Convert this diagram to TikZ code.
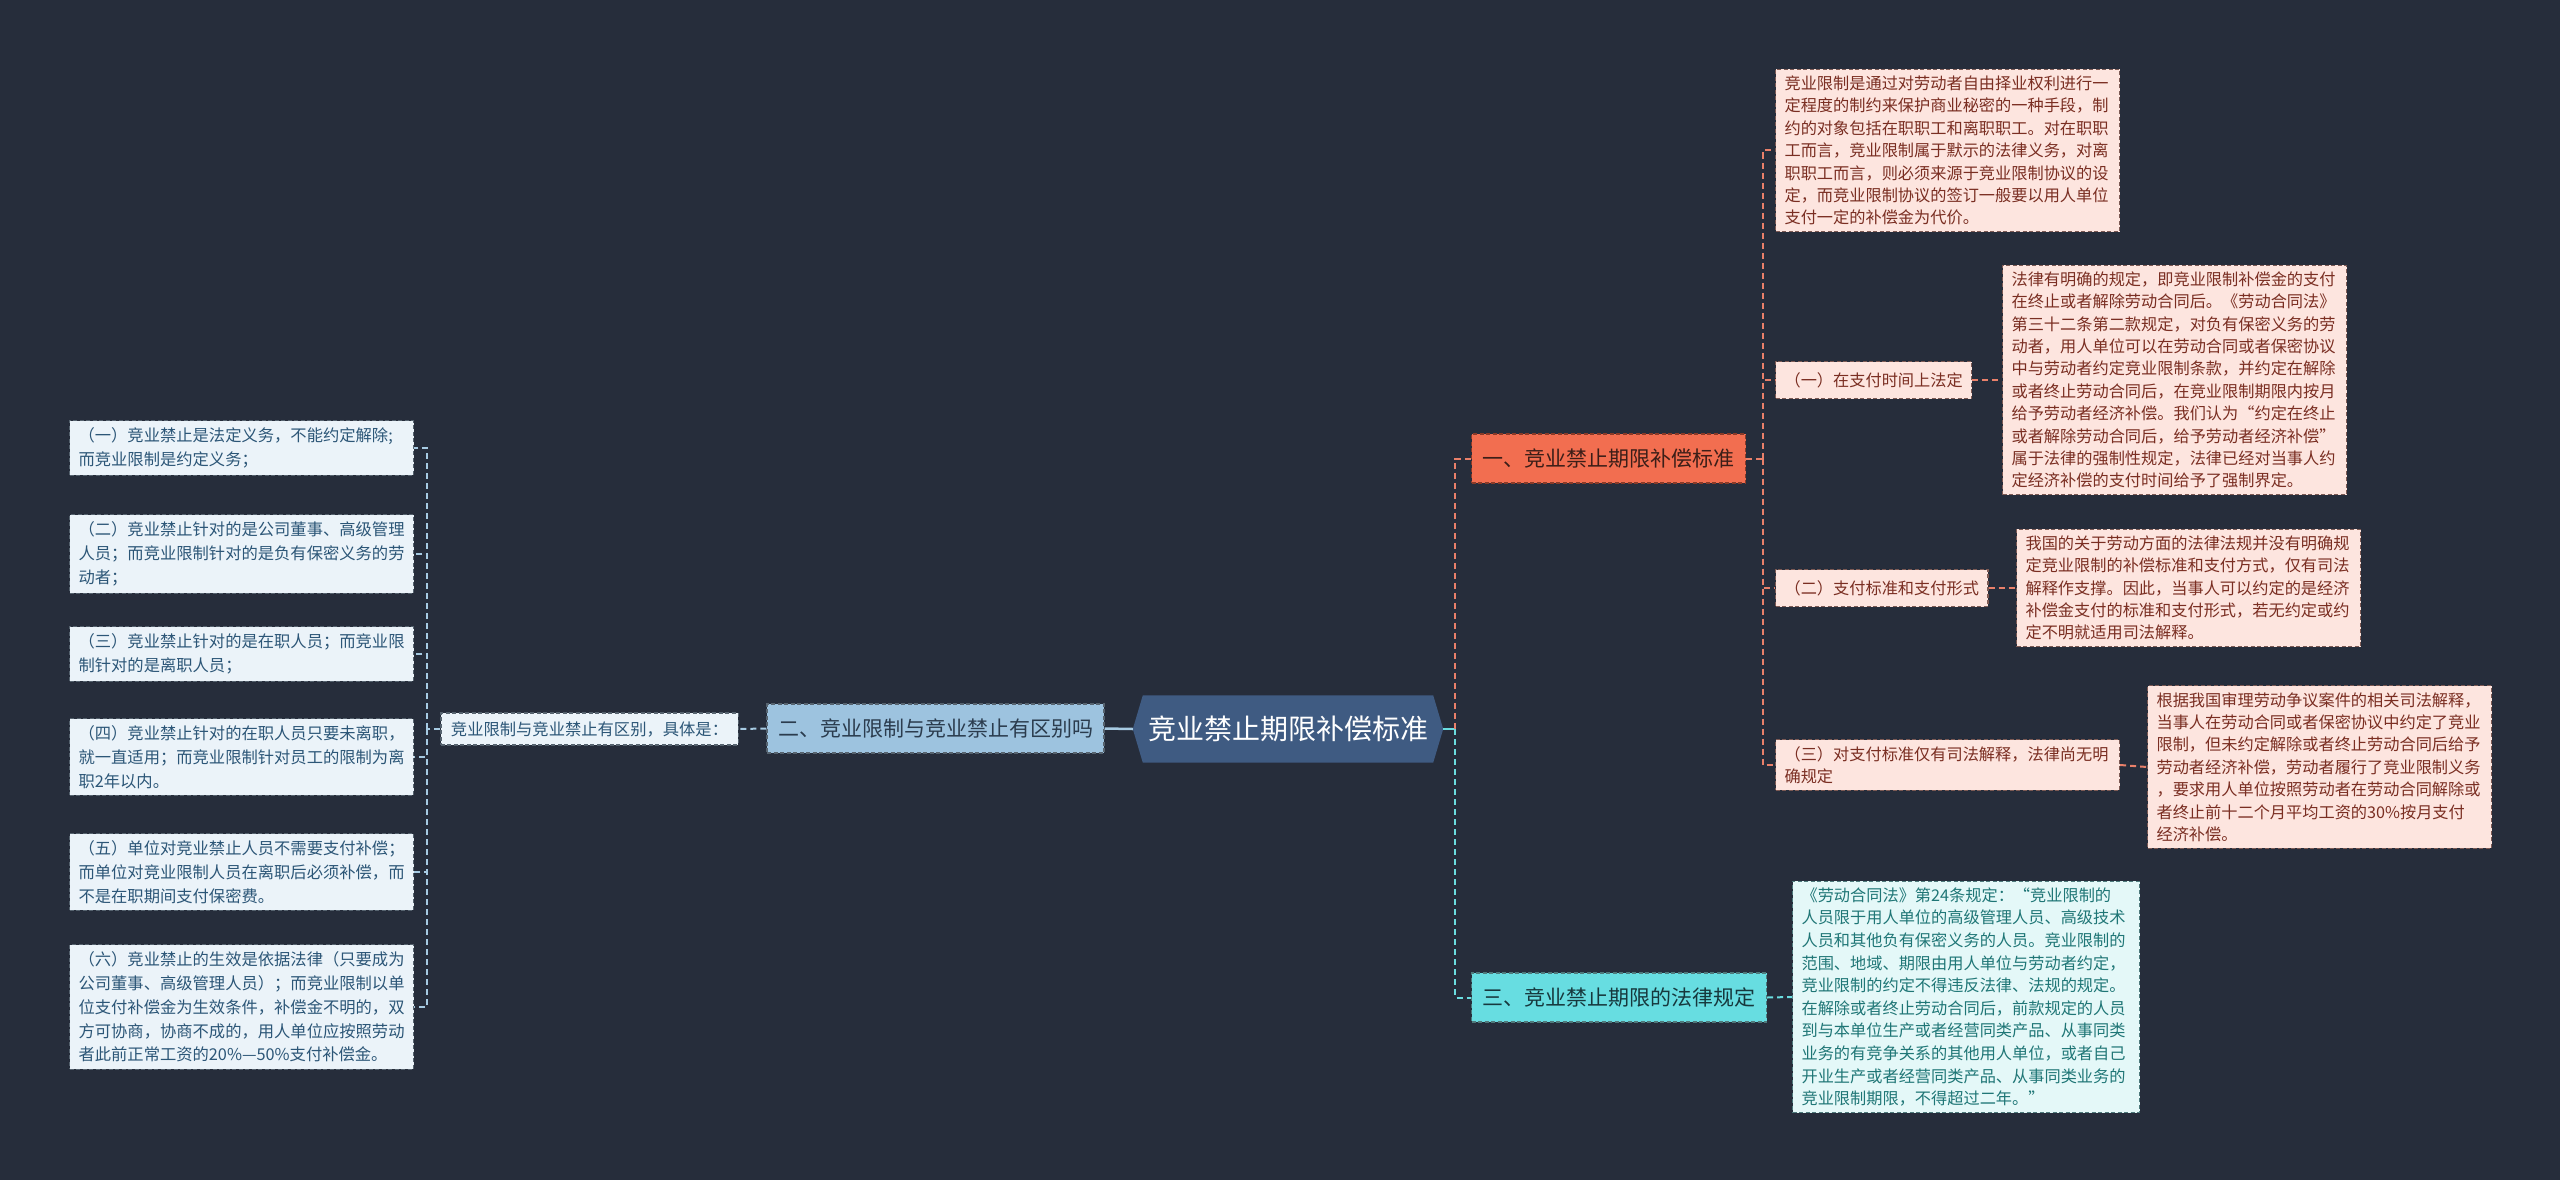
\documentclass[tikz,border=0pt]{standalone}
\usepackage{fontspec}
\setmainfont{Noto Sans CJK SC}
\usetikzlibrary{calc,backgrounds}
\definecolor{bgc}{HTML}{262D3B}
\definecolor{centerfill}{HTML}{3F5B82}
\definecolor{bluefill}{HTML}{9DC3DF}
\definecolor{bluetext}{HTML}{2B3C4E}
\definecolor{lightfill}{HTML}{EBF3F9}
\definecolor{lighttext}{HTML}{2C5677}
\definecolor{lightborder}{HTML}{56636F}
\definecolor{blueline}{HTML}{A7CBE3}
\definecolor{orangefill}{HTML}{F26E50}
\definecolor{orangetext}{HTML}{3C1E18}
\definecolor{orangeborder}{HTML}{8A3A28}
\definecolor{orangeline}{HTML}{E9806A}
\definecolor{pinkfill}{HTML}{FDE5DF}
\definecolor{pinktext}{HTML}{7A2E22}
\definecolor{pinkborder}{HTML}{7D5A54}
\definecolor{cyanfill}{HTML}{67DDE1}
\definecolor{cyantext}{HTML}{17383D}
\definecolor{cyanline}{HTML}{6ADDE0}
\definecolor{cyanlight}{HTML}{E4F8F8}
\definecolor{cyanbtext}{HTML}{1F7676}
\definecolor{cyanborder}{HTML}{4E7A7C}
\tikzset{
  dsh/.style={dash pattern=on 4pt off 2.5pt},
  basebox/.style={draw, dsh, line width=1.1pt, inner xsep=9pt, inner ysep=6.5pt, align=left, anchor=west},
  pinkbox/.style={basebox, fill=pinkfill, draw=pinkborder, text=pinktext, text width=326pt, font=\fontsize{16.2}{22.4}\selectfont},
  pinklabel/.style={basebox, fill=pinkfill, draw=pinkborder, text=pinktext, minimum height=37pt, font=\fontsize{16.2}{22.4}\selectfont},
  leftbox/.style={basebox, fill=lightfill, draw=lightborder, text=lighttext, text width=326pt, inner ysep=7pt, font=\fontsize{16.3}{23.8}\selectfont},
  cyanbox/.style={basebox, fill=cyanlight, draw=cyanborder, text=cyanbtext, text width=329pt, font=\fontsize{16.2}{22.6}\selectfont},
  mainnode/.style={basebox, align=center, minimum height=49pt, inner xsep=11pt, font=\fontsize{21}{25}\selectfont},
  conn/.style={line width=2pt, dash pattern=on 6pt off 4pt},
}
\begin{document}
\begin{tikzpicture}[x=1pt,y=-1pt]
\useasboundingbox (0,0) rectangle (2560,1180);

% center
\node[text=white, minimum width=310pt, minimum height=67pt, inner sep=0pt, font=\fontsize{28}{32}\selectfont] (c) at (1288,729) {竞业禁止期限补偿标准};

% level 1
\node[mainnode, anchor=center, fill=bluefill, draw=lightborder, text=bluetext, minimum width=337pt] (n2) at (935.5,728.5) {二、竞业限制与竞业禁止有区别吗};
\node[basebox, anchor=center, fill=lightfill, draw=lightborder, text=lighttext, minimum width=297pt, minimum height=32pt, inner xsep=10pt, inner ysep=2pt, font=\fontsize{16.3}{20}\selectfont] (jt) at (589.5,729) {竞业限制与竞业禁止有区别，具体是：};
\node[mainnode, fill=orangefill, draw=orangeborder, text=orangetext, minimum width=274pt] (n1) at (1471,458.5) {一、竞业禁止期限补偿标准};
\node[mainnode, fill=cyanfill, draw=cyanborder, text=cyantext, minimum width=294pt] (n3) at (1471,997.5) {三、竞业禁止期限的法律规定};

% left boxes
\node[leftbox] (l1) at (69,448) {（一）竞业禁止是法定义务，不能约定解除;\\而竞业限制是约定义务；};
\node[leftbox] (l2) at (69,554) {（二）竞业禁止针对的是公司董事、高级管理\\人员；而竞业限制针对的是负有保密义务的劳\\动者；};
\node[leftbox] (l3) at (69,654) {（三）竞业禁止针对的是在职人员；而竞业限\\制针对的是离职人员；};
\node[leftbox] (l4) at (69,757) {（四）竞业禁止针对的在职人员只要未离职，\\就一直适用；而竞业限制针对员工的限制为离\\职2年以内。};
\node[leftbox] (l5) at (69,872) {（五）单位对竞业禁止人员不需要支付补偿；\\而单位对竞业限制人员在离职后必须补偿，而\\不是在职期间支付保密费。};
\node[leftbox] (l6) at (69,1007) {（六）竞业禁止的生效是依据法律（只要成为\\公司董事、高级管理人员）；而竞业限制以单\\位支付补偿金为生效条件，补偿金不明的，双\\方可协商，协商不成的，用人单位应按照劳动\\者此前正常工资的20\%—50\%支付补偿金。};

% right pink
\node[pinkbox] (p0) at (1775,150.5) {竞业限制是通过对劳动者自由择业权利进行一\\定程度的制约来保护商业秘密的一种手段，制\\约的对象包括在职职工和离职职工。对在职职\\工而言，竞业限制属于默示的法律义务，对离\\职职工而言，则必须来源于竞业限制协议的设\\定，而竞业限制协议的签订一般要以用人单位\\支付一定的补偿金为代价。};
\node[pinklabel] (a1) at (1775,380) {（一）在支付时间上法定};
\node[pinkbox] (b1) at (2002,380) {法律有明确的规定，即竞业限制补偿金的支付\\在终止或者解除劳动合同后。《劳动合同法》\\第三十二条第二款规定，对负有保密义务的劳\\动者，用人单位可以在劳动合同或者保密协议\\中与劳动者约定竞业限制条款，并约定在解除\\或者终止劳动合同后，在竞业限制期限内按月\\给予劳动者经济补偿。我们认为“约定在终止\\或者解除劳动合同后，给予劳动者经济补偿”\\属于法律的强制性规定，法律已经对当事人约\\定经济补偿的支付时间给予了强制界定。};
\node[pinklabel] (a2) at (1775,588) {（二）支付标准和支付形式};
\node[pinkbox] (b2) at (2016,588) {我国的关于劳动方面的法律法规并没有明确规\\定竞业限制的补偿标准和支付方式，仅有司法\\解释作支撑。因此，当事人可以约定的是经济\\补偿金支付的标准和支付形式，若无约定或约\\定不明就适用司法解释。};
\node[pinkbox] (a3) at (1775,765) {（三）对支付标准仅有司法解释，法律尚无明\\确规定};
\node[pinkbox] (b3) at (2147,767) {根据我国审理劳动争议案件的相关司法解释，\\当事人在劳动合同或者保密协议中约定了竞业\\限制，但未约定解除或者终止劳动合同后给予\\劳动者经济补偿，劳动者履行了竞业限制义务\\，要求用人单位按照劳动者在劳动合同解除或\\者终止前十二个月平均工资的30\%按月支付\\经济补偿。};

% cyan
\node[cyanbox] (q1) at (1792,997) {《劳动合同法》第24条规定：“竞业限制的\\人员限于用人单位的高级管理人员、高级技术\\人员和其他负有保密义务的人员。竞业限制的\\范围、地域、期限由用人单位与劳动者约定，\\竞业限制的约定不得违反法律、法规的规定。\\在解除或者终止劳动合同后，前款规定的人员\\到与本单位生产或者经营同类产品、从事同类\\业务的有竞争关系的其他用人单位，或者自己\\开业生产或者经营同类产品、从事同类业务的\\竞业限制期限，不得超过二年。”};

\begin{scope}[on background layer]
\fill[bgc] (0,0) rectangle (2560,1180);
\fill[centerfill] (c.west) -- ($(c.north west)+(10,0)$) -- ($(c.north east)+(-10,0)$) -- (c.east) -- ($(c.south east)+(-10,0)$) -- ($(c.south west)+(10,0)$) -- cycle;
\end{scope}

% connectors left
\draw[blueline, line width=2.5pt] (c.west) -- (n2.east);
\draw[blueline, conn] (n2.west) -- (jt.east);
\coordinate (lj) at ($(jt.west)+(-13,0)$);
\draw[blueline, conn] (jt.west) -- (lj);
\foreach \n in {l1,l2,l3,l4,l5,l6} \draw[blueline, conn] (lj) |- (\n.east);

% connectors right
\coordinate (rj) at ($(c.east)+(12,0)$);
\draw[cyanline, line width=2pt] (c.east) -- (rj);
\draw[orangeline, conn] (rj) |- (n1.west);
\draw[cyanline, conn] (rj) |- (n3.west);
\coordinate (oj) at ($(n1.east)+(17,0)$);
\draw[orangeline, conn] (n1.east) -- (oj);
\foreach \n in {p0,a1,a2,a3} \draw[orangeline, conn] (oj) |- (\n.west);
\draw[orangeline, conn] (a1.east) -- (b1.west);
\draw[orangeline, conn] (a2.east) -- (b2.west);
\draw[orangeline, conn] (a3.east) -- (b3.west);
\draw[cyanline, conn] (n3.east) -- (q1.west);
\end{tikzpicture}
\end{document}
